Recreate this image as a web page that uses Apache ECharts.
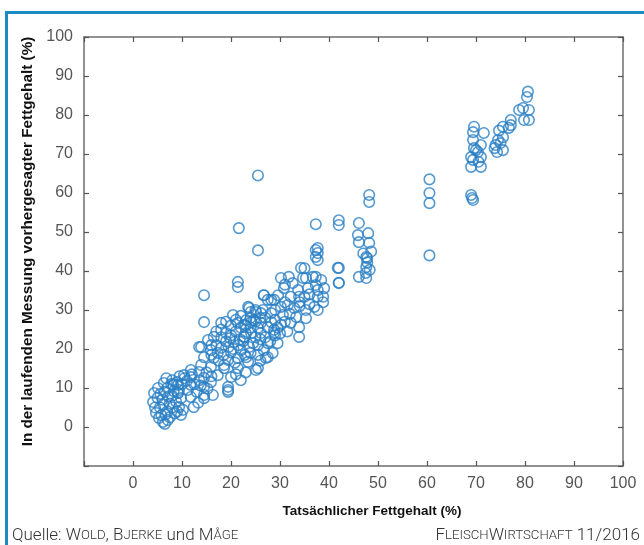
<!DOCTYPE html>
<html><head><meta charset="utf-8">
<script src="https://cdn.jsdelivr.net/npm/echarts@6/dist/echarts.min.js"></script>
<style>
html,body{margin:0;padding:0;background:#fff;}
#c{width:644px;height:545px;position:absolute;left:0;top:0;}
#frame{position:absolute;left:5px;top:11px;width:650px;height:540px;border-left:3px solid #1d8ac4;border-top:3px solid #1d8ac4;pointer-events:none;}
</style></head>
<body>
<div id="c"></div><div id="frame"></div>
<script>
// [actual fat %, predicted fat %]
const lowFat = [[5.3,2.3],[6.1,1.3],[7.1,1.8],[6.5,0.8],[4.7,3.6],[9.8,3.1],[4.1,6.4],[4.3,8.7],[5.1,10],[6.3,11.3],[8.2,10.8],[9.4,9.5],[9.8,7.4],[9.4,5.1],[10.2,4.4],[5.5,5],[6,7],[6.5,9],[7,4],[7.5,6],[8,8],[7,10],[8.5,3.5],[5,7.5],[6.8,12.5],[8,12],[9,11.5],[5.8,3],[7.5,2.5],[8.8,6.5],[6.2,5.8],[7.2,7.8],[8.3,9.2],[5.6,8.5],[9.2,8.8],[4.5,5],[7.8,11],[6.6,3.2],[9,4],[8,5],[10,11],[10.5,12.5],[9.5,13],[9.2,10.8],[9.2,8.7]];
const lowMidFat = [[10.4,13.3],[11.8,14.6],[13.5,14.1],[14.5,12.6],[15.9,11.5],[13.3,6.2],[12.4,5.1],[14.5,7.4],[16.3,8.2],[11.2,9.5],[11.8,7.7],[19.4,9.5],[11.8,12.8],[11.8,10.8],[14.5,10.3],[14.5,8.2],[12.5,11],[13,9],[13.5,12],[15,14],[12,13.5],[15.2,9.8],[11,11.8],[13.8,10.6],[16,13]];
const midFat = [[13.9,20.5],[17.3,19],[18.6,15.9],[21.4,37.2],[21.4,35.9],[14.5,33.8],[14.5,26.9],[18,26.7],[20.4,28.7],[23.7,30.5],[26.7,33.8],[28.2,32.6],[26.1,29.2],[28.2,29.2],[21.4,26.7],[23.1,27.4],[24.7,27.4],[25.5,25.4],[27.5,25.6],[28.8,24.1],[16.5,23.1],[19,24.1],[15.3,22.3],[20.6,21.8],[22.7,23.1],[13.5,20.5],[15.9,19.7],[18,20.3],[20,19.2],[22,19.7],[23.7,20.5],[26.7,19.7],[27.5,17.9],[14.5,17.9],[16.5,17.7],[19.4,17.2],[21.4,17.7],[23.5,16.7],[13.9,15.9],[15.9,15.4],[18.6,15.1],[21.4,15.1],[25.1,14.6],[17.3,13.3],[20,12.8],[19.4,10.3],[19.4,9],
[17,21],[18,23],[19,22],[20,23.5],[21,24.5],[22,25.5],[19.5,20.5],[20.5,20],[21.5,21],[22.5,22],[23,24],[24,25.5],[25,23],[24.5,21.5],[18.5,18.5],[17.5,17],[16,18.5],[20,26],[21,27.5],[22,28.5],[19,27],[23,26],[24,28],[25,27],[26,28],[25,30],[24,29.5],[17,24.5],[18,25],[16,21],[19.8,22.8],[21.8,22.5],[22.8,18.5],[20.8,16.5],[24,19],[25.5,21],[26,22.5],[27,23],[28,22],[29,23.5],[30,24],[29.5,21.5],[28.5,19],[26,17],[25.5,18.5],[23,14],[21,13.5],[22,12]];
const upperMidFat = [[37.7,45.9],[37.7,44.6],[37.7,42.8],[41.8,40.8],[42,36.9],[34.3,40.8],[30.2,38.2],[31.8,38.5],[32.6,36.9],[34.7,38.2],[36.7,38.5],[38.4,37.7],[37.3,36.4],[39,35.6],[35.7,35.6],[33.7,35.1],[30.8,35.6],[29.6,33.8],[26.7,33.8],[27.5,32.6],[28.8,32.6],[32.2,33.4],[33.9,33.4],[37.7,33.4],[38.8,32],[37.7,30],[35.3,30],[32.9,30.5],[31.6,31.3],[30.2,30.8],[23.5,30.8],[26.5,30],[25.1,29.5],[30.6,28.7],[33.3,28.2],[35.3,27.9],[32.2,26.7],[33.9,25.6],[30.2,26.2],[28.2,26.9],[26.1,26.7],[24.1,26.9],[22.7,26.2],[28.8,24.9],[26.1,24.1],[24.1,24.1],[22.7,23.1],[33.9,23.1],[27.5,21.5],[27.1,17.7],[23.1,17.9],[25.5,15.1],
[25.5,64.5],[21.6,51],[25.5,45.3],
[35,40.7],[35.3,38.2],[37.3,38.5],[37.7,35.1],[38.8,33.4],[35,33.4],[37,30.8],[31,36.5],[29,30],[31,32],[34,32],[36,34],[32,29],[34,31],[36,31.5],[29,27.5],[31,27],[27,28],[29.5,25.5],[31.5,24.5]];
const highMidFat = [[37.3,52],[37.3,45.4],[37.3,43.6],[42,53],[42,51.8],[46.1,52.3],[45.9,49.2],[48,49.7],[46.1,47.4],[48.2,47.2],[47.6,43.6],[47.8,43.3],[48.6,45],[47.6,41],[48.3,40.3],[46.1,38.5],[47.6,38.2],[42,40.8],[42,37],[48.2,59.5],[48.2,57.7],[47.8,42.2],[47.5,39.5],[47,44.5]];
const highFat = [[60.5,63.5],[60.5,60],[60.5,57.4],[60.5,44],[69,59.5],[69.2,58.7],[69.4,58.2],[80.6,86],[80.4,84.6],[79.6,81.8],[78.8,81.3],[80.8,81.3],[80.8,78.7],[79.8,78.7],[77.1,78.7],[77.1,77.4],[76.7,76.7],[75.5,77],[74.7,76],[74.5,73.6],[75,72.8],[74,72.3],[75.5,71],[75.5,74.3],[69.6,77],[69.4,75.6],[71.6,75.4],[69.4,73.6],[71,72.3],[69.6,71.5],[69,69.2],[71,69.2],[69.4,68.5],[69,66.7],[71,66.7],[70.4,70.5],[70,71],[70.5,68],[73.8,71.5],[74.3,70.5]];

const axisMin = -10, axisMax = 100, axisStep = 10;
const xTitle = 'Tatsächlicher Fettgehalt (%)';
const yTitle = 'In der laufenden Messung vorhergesagter Fettgehalt (%)';

const allPoints = [].concat(lowFat, lowMidFat, midFat, upperMidFat, highMidFat, highFat);

const chart = echarts.init(document.getElementById('c'), null, {renderer:'canvas'});
const labelFont = 'Liberation Sans, Arial, sans-serif';
const axisColor = '#6e6e6e';
const tickLabel = (margin) => ({show:true, color:'#555', fontSize:16, fontFamily:labelFont, margin: margin, formatter: v => v < 0 ? '' : String(v)});
function mkAxis(pos, show, extra){
  return Object.assign({
    type:'value', position: pos, min: axisMin, max: axisMax, interval: axisStep,
    axisLine:{show:true, onZero:false, lineStyle:{color:axisColor, width:1.5}},
    axisTick:{show:true, inside:true, length:5, lineStyle:{color:'#555', width:1.2}},
    axisLabel:{show: show},
    splitLine:{show:false}
  }, extra || {});
}
const sc = {fontSize:17, fontFamily:'Roboto, sans-serif', color:'#333', fontWeight:300};
const scs = {fontSize:13.2, fontFamily:'Roboto, sans-serif', color:'#333', fontWeight:300};
chart.setOption({
  animation:false,
  backgroundColor:'#fff',
  title:[
    {text: xTitle, left: 367, textAlign:'center', top: 499,
     textStyle:{fontSize:13.5, fontWeight:'bold', color:'#111', fontFamily:'Liberation Sans, Arial, sans-serif'}},
    {text:'{a|Quelle: }{a|W}{b|OLD}{a|, B}{b|JERKE}{a| und M}{b|ÅGE}', left: 7, top: 527, padding:[0,5,0,5],
     textStyle:{rich:{a:sc, b:scs}}},
    {text:'{a|F}{b|LEISCH}{a|W}{b|IRTSCHAFT}{a| 11/2016}', right: 0, top: 527, padding:[0,4,0,0],
     textStyle:{rich:{a:sc, b:scs}}}
  ],
  grid:{left:84, right:21, top:37, bottom:79, containLabel:false},
  xAxis:[
    mkAxis('bottom', true, {axisLabel: tickLabel(10)}),
    mkAxis('top', false)
  ],
  yAxis:[
    mkAxis('left', true, {name: yTitle, nameLocation:'middle', nameGap:48,
      nameTextStyle:{fontSize:15.3, fontWeight:'bold', color:'#111', fontFamily:'Liberation Sans, Arial, sans-serif', padding:[0,0,0,20]},
      axisLabel: tickLabel(11)}),
    mkAxis('right', false)
  ],
  series:[{
    type:'scatter', xAxisIndex:0, yAxisIndex:0,
    data: allPoints, symbol:'circle', symbolSize:10.5,
    itemStyle:{color:'rgba(0,0,0,0)', borderColor:'#2a80c4', borderWidth:1.6}
  }]
});
</script>
</body></html>
